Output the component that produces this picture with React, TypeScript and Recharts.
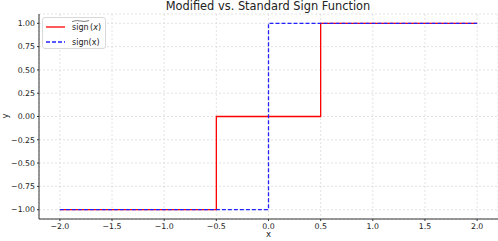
import React from "react";
import { LineChart, Line, XAxis, YAxis, CartesianGrid } from "recharts";

const modifiedSign = [
  { x: -2, y: -1 },
  { x: -0.5, y: -1 },
  { x: -0.5, y: 0 },
  { x: 0.5, y: 0 },
  { x: 0.5, y: 1 },
  { x: 2, y: 1 },
];
const standardSign = [
  { x: -2, y: -1 },
  { x: 0, y: -1 },
  { x: 0, y: 1 },
  { x: 2, y: 1 },
];
const xTicks = [-2, -1.5, -1, -0.5, 0, 0.5, 1, 1.5, 2];
const yTicks = [-1, -0.75, -0.5, -0.25, 0, 0.25, 0.5, 0.75, 1];

const FONT = "'DejaVu Sans', sans-serif";
const fmt = (v: number, d: number) => {
  const s = Math.abs(v).toFixed(d);
  return v < 0 ? "\u2212" + s : s;
};

const LegendBox = () => (
  <div
    style={{
      position: "absolute",
      left: 42,
      top: 17,
      border: "1px solid #d9d9d9",
      borderRadius: 3,
      background: "rgba(255,255,255,0.85)",
      width: 64,
      height: 32,
      boxSizing: "border-box",
    }}
  >
    <svg width={64} height={32} style={{ position: "absolute", left: -1, top: -1 }}>
      <line x1={4} x2={23} y1={10} y2={10} stroke="#ff0000" strokeWidth={1.3} />
      <line x1={4} x2={23} y1={25} y2={25} stroke="#2222ff" strokeWidth={1.3} strokeDasharray="4 2" />
      <path d="M30 4.6 Q34.5 2.9 38.5 4 Q42.5 5.1 47 3.6" fill="none" stroke="#222" strokeWidth={0.6} />
      <text x={30} y={13} fontFamily={FONT} fontSize={8} fill="#222">
        sign<tspan dx={1.5}>(</tspan><tspan fontStyle="italic">x</tspan>)
      </text>
      <text x={30} y={28} fontFamily={FONT} fontSize={8} fill="#222">
        sign(x)
      </text>
    </svg>
  </div>
);

export default function App() {
  return (
    <div style={{ position: "absolute", left: 0, top: 0, width: 498, height: 241, background: "#fff" }}>
      <LineChart
        width={498}
        height={241}
        margin={{ top: 14, right: 0, left: 0, bottom: 0 }}
        style={{ position: "absolute", left: 0, top: 0 }}
      >
        <CartesianGrid stroke="#d0d0d0" strokeDasharray="2 2" strokeWidth={0.6} vertical horizontal />
        <XAxis
          type="number"
          dataKey="x"
          domain={[-2.2, 2.2]}
          ticks={xTicks}
          allowDataOverflow
          height={22}
          tickFormatter={(v: number) => fmt(v, 1)}
          tick={{ fontFamily: FONT, fontSize: 7.8, fill: "#222" }}
          tickSize={2}
          tickMargin={2}
          stroke="#333"
          tickLine={{ stroke: "#333" }}
          label={{ value: "x", position: "insideBottom", offset: 4, fontFamily: FONT, fontSize: 8.5, fill: "#222" }}
        />
        <YAxis
          type="number"
          dataKey="y"
          domain={[-1.1, 1.1]}
          ticks={yTicks}
          allowDataOverflow
          width={39}
          tickFormatter={(v: number) => fmt(v, 2)}
          tick={{ fontFamily: FONT, fontSize: 7.8, fill: "#222" }}
          tickSize={2}
          tickMargin={2}
          stroke="#333"
          tickLine={{ stroke: "#333" }}
        />
        <Line
          data={modifiedSign}
          dataKey="y"
          type="linear"
          stroke="#ff0000"
          strokeWidth={1.3}
          dot={false}
          activeDot={false}
          isAnimationActive={false}
          name="modified"
        />
        <Line
          data={standardSign}
          dataKey="y"
          type="linear"
          stroke="#2222ff"
          strokeWidth={1.3}
          strokeDasharray="4 2"
          dot={false}
          activeDot={false}
          isAnimationActive={false}
          name="standard"
        />
      </LineChart>
      <div
        style={{
          position: "absolute",
          left: 0,
          width: 536,
          top: 0,
          textAlign: "center",
          fontFamily: FONT,
          fontSize: 11.4,
          color: "#222",
          lineHeight: "12px",
          whiteSpace: "nowrap",
        }}
      >
        Modified vs. Standard Sign Function
      </div>
      <div
        style={{
          position: "absolute",
          left: 0,
          top: 111,
          fontFamily: FONT,
          fontSize: 8.5,
          color: "#222",
          transform: "rotate(-90deg)",
          width: 10,
          textAlign: "center",
        }}
      >
        y
      </div>
      <LegendBox />
    </div>
  );
}
